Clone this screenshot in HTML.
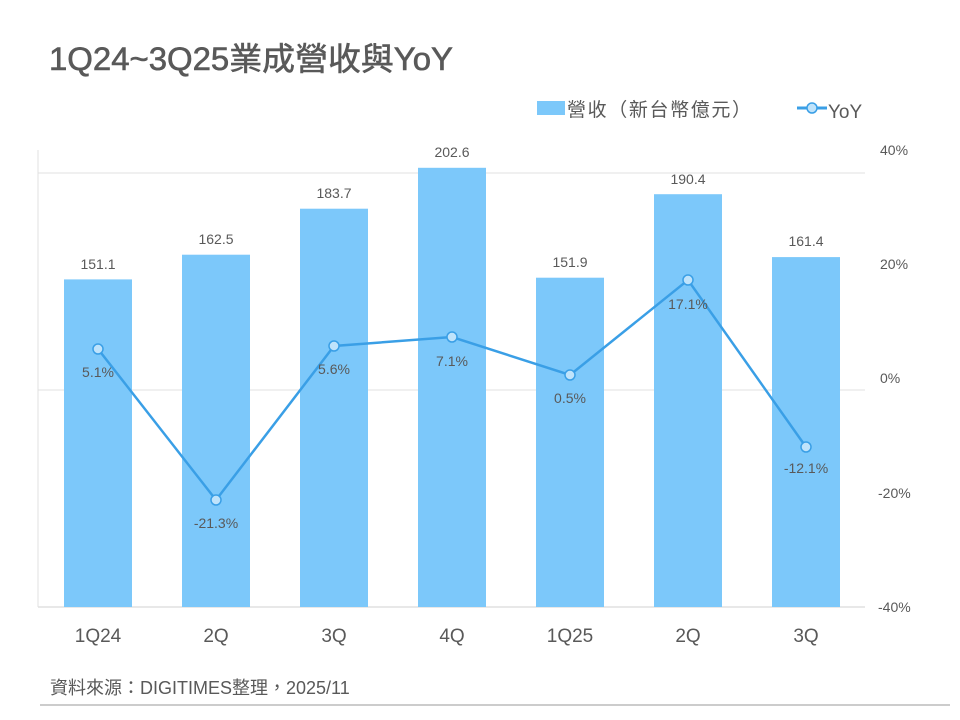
<!DOCTYPE html><html><head><meta charset="utf-8"><style>body{margin:0;background:#fff}svg{display:block}text{font-family:"Liberation Sans","Noto Sans CJK TC",sans-serif}</style></head><body>
<svg width="960" height="720" xmlns="http://www.w3.org/2000/svg">
<rect width="960" height="720" fill="#fff"/>
<text x="49" y="70" font-size="32" fill="#595959" textLength="404" lengthAdjust="spacingAndGlyphs" stroke="#595959" stroke-width="0.6">1Q24~3Q25業成營收與YoY</text>
<rect x="537" y="101" width="28" height="14" fill="#7cc8fa"/>
<text x="567" y="116" font-size="19" fill="#595959" textLength="184">營收（新台幣億元）</text>
<line x1="797" y1="108" x2="827" y2="108" stroke="#3a9fe6" stroke-width="3"/>
<circle cx="812" cy="108" r="5" fill="#bfe3fb" stroke="#3a9fe6" stroke-width="1.5"/>
<text x="828" y="118" font-size="19" fill="#595959">YoY</text>
<line x1="38" y1="173" x2="865" y2="173" stroke="#e0e0e0"/>
<line x1="38" y1="390" x2="865" y2="390" stroke="#e0e0e0"/>
<line x1="38" y1="607" x2="865" y2="607" stroke="#d0d0d0"/>
<line x1="38" y1="150" x2="38" y2="607" stroke="#e0e0e0"/>
<g fill="#7cc8fa">
<rect x="64" y="279.4" width="68" height="327.6"/>
<rect x="182" y="254.7" width="68" height="352.3"/>
<rect x="300" y="208.7" width="68" height="398.3"/>
<rect x="418" y="167.8" width="68" height="439.2"/>
<rect x="536" y="277.7" width="68" height="329.3"/>
<rect x="654" y="194.2" width="68" height="412.8"/>
<rect x="772" y="257.1" width="68" height="349.9"/>
</g>
<g font-size="14" fill="#595959" text-anchor="middle">
<text x="98" y="269">151.1</text><text x="216" y="244">162.5</text><text x="334" y="198">183.7</text><text x="452" y="157">202.6</text><text x="570" y="267">151.9</text><text x="688" y="184">190.4</text><text x="806" y="246">161.4</text>
</g>
<polyline points="98,349 216,500 334,346 452,337 570,375 688,280 806,447" fill="none" stroke="#3a9fe6" stroke-width="2.5"/>
<g fill="#bfe3fb" stroke="#3a9fe6" stroke-width="1.5">
<circle cx="98" cy="349" r="5"/><circle cx="216" cy="500" r="5"/><circle cx="334" cy="346" r="5"/><circle cx="452" cy="337" r="5"/><circle cx="570" cy="375" r="5"/><circle cx="688" cy="280" r="5"/><circle cx="806" cy="447" r="5"/>
</g>
<g font-size="14" fill="#595959" text-anchor="middle">
<text x="98" y="377">5.1%</text><text x="216" y="528">-21.3%</text><text x="334" y="374">5.6%</text><text x="452" y="366">7.1%</text><text x="570" y="403">0.5%</text><text x="688" y="309">17.1%</text><text x="806" y="473">-12.1%</text>
</g>
<g font-size="14" fill="#595959">
<text x="880" y="155">40%</text><text x="880" y="269">20%</text><text x="880" y="383">0%</text><text x="878" y="498">-20%</text><text x="878" y="612">-40%</text>
</g>
<g font-size="19" fill="#595959" text-anchor="middle">
<text x="98" y="642">1Q24</text><text x="216" y="642">2Q</text><text x="334" y="642">3Q</text><text x="452" y="642">4Q</text><text x="570" y="642">1Q25</text><text x="688" y="642">2Q</text><text x="806" y="642">3Q</text>
</g>
<text x="50" y="694" font-size="18" fill="#595959">資料來源：DIGITIMES整理，2025/11</text>
<line x1="40" y1="705" x2="950" y2="705" stroke="#999"/>
</svg></body></html>
